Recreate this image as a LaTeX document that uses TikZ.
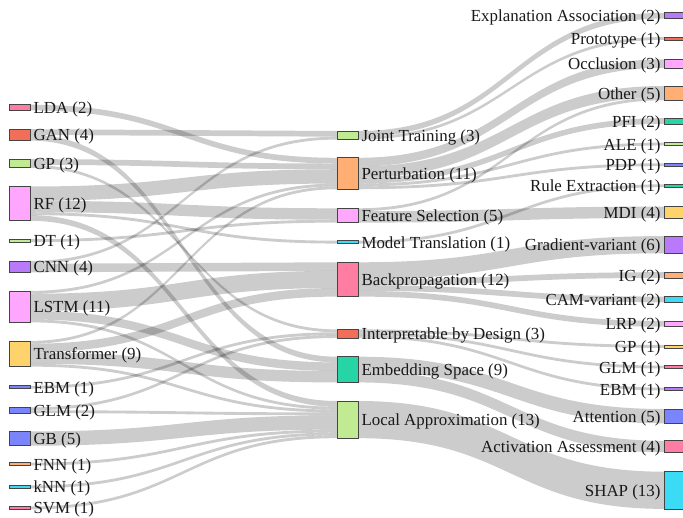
\documentclass[tikz,border=0pt]{standalone}
\usepackage{fontspec}
\setmainfont{Liberation Serif}
\usetikzlibrary{calc}
\pgfdeclarelayer{bg}
\pgfsetlayers{bg,main}
\definecolor{pBlue}{HTML}{636EFA}
\definecolor{pRed}{HTML}{EF553B}
\definecolor{pGreen}{HTML}{00CC96}
\definecolor{pPurple}{HTML}{AB63FA}
\definecolor{pOrange}{HTML}{FFA15A}
\definecolor{pCyan}{HTML}{19D3F3}
\definecolor{pPink}{HTML}{FF6692}
\definecolor{pLime}{HTML}{B6E880}
\definecolor{pMag}{HTML}{FF97FF}
\definecolor{pYellow}{HTML}{FECB52}
\definecolor{edge}{HTML}{444444}
\def\ku{2.86}
\tikzset{
  nbox/.style={draw=edge, line width=0.7pt, minimum width=21pt, inner sep=0pt, outer sep=0pt, rectangle, fill opacity=0.85},
  linkfill/.style={fill=black, fill opacity=0.2},
  lbl/.style={font=\fontsize{16.9}{18}\selectfont, text=black!90, inner sep=0pt},
}
\newcommand\snode[6]{%
  \pgfmathsetmacro\hh{#4*\ku}%
  \pgfmathsetmacro\yc{#3+#4*\ku/2}%
  \node[nbox, fill=#5, minimum height=\hh pt] (#1) at (#2,\yc) {};
  \ifcase#6\relax
    \node[lbl, anchor=base west] (t#1) at ($(#1.east)+(3.3pt,-6pt)$) {\labeltext};
  \or
    \node[lbl, anchor=base east] (t#1) at ($(#1.west)+(-3.3pt,-6pt)$) {\labeltext};
  \fi
}
\newcommand\band[5]{%
  \begin{pgfonlayer}{bg}
  \fill[linkfill] let \p1=(#1.north east), \p2=(#3.north west),
    \n1={#2*\ku*1pt}, \n2={#4*\ku*1pt}, \n3={#5*\ku*1pt}, \n4={0.5*\x1+0.5*\x2} in
    (\x1,\y1-\n1) .. controls (\n4,\y1-\n1) and (\n4,\y2-\n2) .. (\x2,\y2-\n2)
    -- (\x2,\y2-\n2-\n3) .. controls (\n4,\y2-\n2-\n3) and (\n4,\y1-\n1-\n3) .. (\x1,\y1-\n1-\n3) -- cycle;
  \end{pgfonlayer}
}
\newcommand\lnode[6]{\def\labeltext{#6}\snode{#1}{#2}{#3}{#4}{#5}{0}}
\newcommand\rnode[6]{\def\labeltext{#6}\snode{#1}{#2}{#3}{#4}{#5}{1}}
\begin{document}
\begin{tikzpicture}[x=1pt,y=-1pt]
\useasboundingbox (0,0) rectangle (683,518);
% left column
\lnode{LDA}{19.5}{104.7}{2}{pPink}{LDA (2)}
\lnode{GAN}{19.5}{129.2}{4}{pRed}{GAN (4)}
\lnode{GPl}{19.5}{159.2}{3}{pLime}{GP (3)}
\lnode{RF}{19.5}{186.5}{12}{pMag}{RF (12)}
\lnode{DT}{19.5}{239.2}{1}{pLime}{DT (1)}
\lnode{CNN}{19.5}{260.9}{4}{pPurple}{CNN (4)}
\lnode{LSTM}{19.5}{290.9}{11}{pMag}{LSTM (11)}
\lnode{Tr}{19.5}{340.9}{9}{pYellow}{Transformer (9)}
\lnode{EBMl}{19.5}{385.8}{1}{pBlue}{EBM (1)}
\lnode{GLMl}{19.5}{407.4}{2}{pBlue}{GLM (2)}
\lnode{GB}{19.5}{431.4}{5}{pBlue}{GB (5)}
\lnode{FNN}{19.5}{462.6}{1}{pOrange}{FNN (1)}
\lnode{kNN}{19.5}{485.5}{1}{pCyan}{kNN (1)}
\lnode{SVM}{19.5}{506.5}{1}{pPink}{SVM (1)}
% middle column
\lnode{JT}{347.5}{131.0}{3}{pLime}{Joint Training (3)}
\lnode{Pert}{347.5}{157.8}{11}{pOrange}{Perturbation (11)}
\lnode{FS}{347.5}{208.3}{5}{pMag}{Feature Selection (5)}
\lnode{MT}{347.5}{240.7}{1}{pCyan}{Model Translation (1)}
\lnode{BP}{347.5}{262.3}{12}{pPink}{Backpropagation (12)}
\lnode{IbD}{347.5}{329.4}{3}{pRed}{Interpretable by Design (3)}
\lnode{Emb}{347.5}{356.7}{9}{pGreen}{Embedding Space (9)}
\lnode{LA}{347.5}{401.0}{13}{pLime}{Local Approximation (13)}
% right column
\rnode{EA}{674.5}{12.8}{2}{pPurple}{Explanation Association (2)}
\rnode{Prot}{674.5}{37.0}{1}{pRed}{Prototype (1)}
\rnode{Occ}{674.5}{59.3}{3}{pMag}{Occlusion (3)}
\rnode{Other}{674.5}{86.0}{5}{pOrange}{Other (5)}
\rnode{PFI}{674.5}{118.2}{2}{pGreen}{PFI (2)}
\rnode{ALE}{674.5}{142.6}{1}{pLime}{ALE (1)}
\rnode{PDP}{674.5}{163.3}{1}{pBlue}{PDP (1)}
\rnode{RE}{674.5}{184.3}{1}{pGreen}{Rule Extraction (1)}
\rnode{MDI}{674.5}{206.6}{4}{pYellow}{MDI (4)}
\rnode{GV}{674.5}{236.1}{6}{pPurple}{Gradient-variant (6)}
\rnode{IG}{674.5}{272.2}{2}{pOrange}{IG (2)}
\rnode{CAM}{674.5}{296.6}{2}{pCyan}{CAM-variant (2)}
\rnode{LRP}{674.5}{321.0}{2}{pMag}{LRP (2)}
\rnode{GPr}{674.5}{345.0}{1}{pYellow}{GP (1)}
\rnode{GLMr}{674.5}{365.6}{1}{pPink}{GLM (1)}
\rnode{EBMr}{674.5}{387.6}{1}{pPurple}{EBM (1)}
\rnode{Att}{674.5}{409.0}{5}{pBlue}{Attention (5)}
\rnode{AA}{674.5}{440.8}{4}{pPink}{Activation Assessment (4)}
\rnode{SHAP}{674.5}{471.7}{13}{pCyan}{SHAP (13)}
% links left -> middle
\band{LDA}{0}{Pert}{0}{2}
\band{GAN}{0}{JT}{0}{2}
\band{GAN}{2}{Emb}{0}{2}
\band{GPl}{0}{Pert}{2}{2}
\band{GPl}{2}{IbD}{0}{1}
\band{RF}{0}{Pert}{4}{5}
\band{RF}{5}{FS}{0}{4}
\band{RF}{9}{MT}{0}{1}
\band{RF}{10}{LA}{0}{2}
\band{DT}{0}{FS}{4}{1}
\band{CNN}{0}{JT}{2}{1}
\band{CNN}{1}{BP}{0}{3}
\band{LSTM}{0}{Pert}{9}{1}
\band{LSTM}{1}{BP}{3}{6}
\band{LSTM}{7}{Emb}{2}{3}
\band{LSTM}{10}{LA}{2}{1}
\band{Tr}{0}{Pert}{10}{1}
\band{Tr}{1}{BP}{9}{3}
\band{Tr}{4}{Emb}{5}{4}
\band{Tr}{8}{LA}{3}{1}
\band{EBMl}{0}{IbD}{1}{1}
\band{GLMl}{0}{IbD}{2}{1}
\band{GLMl}{1}{LA}{4}{1}
\band{GB}{0}{LA}{5}{5}
\band{FNN}{0}{LA}{10}{1}
\band{kNN}{0}{LA}{11}{1}
\band{SVM}{0}{LA}{12}{1}
% links middle -> right
\band{JT}{0}{EA}{0}{2}
\band{JT}{2}{Prot}{0}{1}
\band{Pert}{0}{Occ}{0}{3}
\band{Pert}{3}{Other}{0}{4}
\band{Pert}{7}{PFI}{0}{2}
\band{Pert}{9}{ALE}{0}{1}
\band{Pert}{10}{PDP}{0}{1}
\band{FS}{0}{Other}{4}{1}
\band{FS}{1}{MDI}{0}{4}
\band{MT}{0}{RE}{0}{1}
\band{BP}{0}{GV}{0}{6}
\band{BP}{6}{IG}{0}{2}
\band{BP}{8}{CAM}{0}{2}
\band{BP}{10}{LRP}{0}{2}
\band{IbD}{0}{GPr}{0}{1}
\band{IbD}{1}{GLMr}{0}{1}
\band{IbD}{2}{EBMr}{0}{1}
\band{Emb}{0}{Att}{0}{5}
\band{Emb}{5}{AA}{0}{4}
\band{LA}{0}{SHAP}{0}{13}
\end{tikzpicture}
\end{document}
